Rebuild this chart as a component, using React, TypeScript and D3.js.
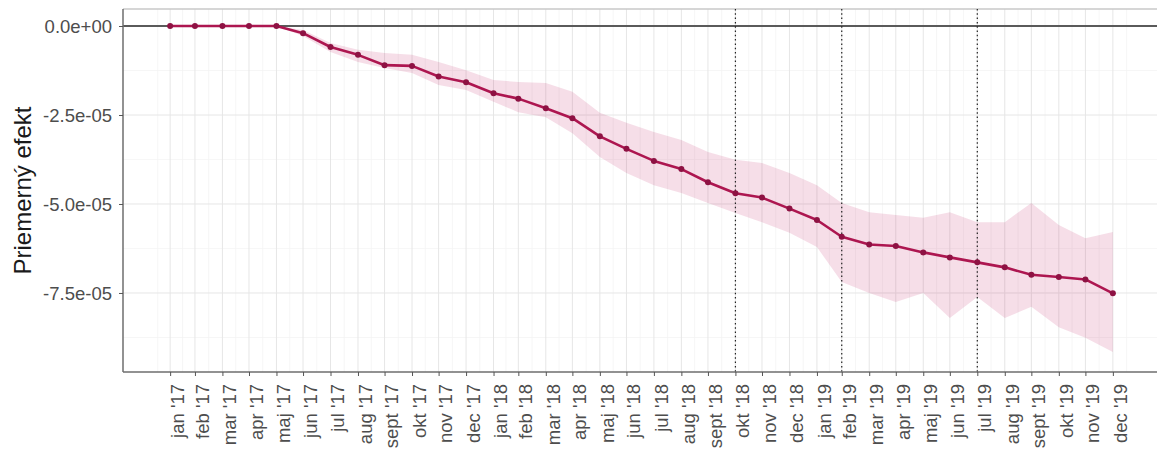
import { useEffect, useRef } from "react";
import * as d3 from "d3";

// month labels, one per observation (end-of-month dates)
const monthLabels = [
  "jan '17", "feb '17", "mar '17", "apr '17", "maj '17", "jun '17",
  "jul '17", "aug '17", "sept '17", "okt '17", "nov '17", "dec '17",
  "jan '18", "feb '18", "mar '18", "apr '18", "maj '18", "jun '18",
  "jul '18", "aug '18", "sept '18", "okt '18", "nov '18", "dec '18",
  "jan '19", "feb '19", "mar '19", "apr '19", "maj '19", "jun '19",
  "jul '19", "aug '19", "sept '19", "okt '19", "nov '19", "dec '19",
];

const monthDates = [
  "2017-01-31", "2017-02-28", "2017-03-31", "2017-04-30", "2017-05-31", "2017-06-30",
  "2017-07-31", "2017-08-31", "2017-09-30", "2017-10-31", "2017-11-30", "2017-12-31",
  "2018-01-31", "2018-02-28", "2018-03-31", "2018-04-30", "2018-05-31", "2018-06-30",
  "2018-07-31", "2018-08-31", "2018-09-30", "2018-10-31", "2018-11-30", "2018-12-31",
  "2019-01-31", "2019-02-28", "2019-03-31", "2019-04-30", "2019-05-31", "2019-06-30",
  "2019-07-31", "2019-08-31", "2019-09-30", "2019-10-31", "2019-11-30", "2019-12-31",
];

// average effect, in units of 1e-5
const meanEffect = [
  0, 0, 0, 0, 0, -0.2, -0.59, -0.81, -1.1, -1.12, -1.42, -1.58,
  -1.89, -2.04, -2.31, -2.59, -3.1, -3.45, -3.79, -4.02, -4.39, -4.7, -4.82, -5.13,
  -5.45, -5.92, -6.14, -6.18, -6.36, -6.5, -6.64, -6.78, -6.99, -7.05, -7.12, -7.51,
];

const upperBand = [
  0, 0, 0, 0, 0, -0.11, -0.48, -0.67, -0.76, -0.81, -1.01, -1.24,
  -1.52, -1.57, -1.6, -1.85, -2.44, -2.72, -2.98, -3.2, -3.54, -3.76, -3.85, -4.13,
  -4.47, -4.97, -5.23, -5.31, -5.39, -5.23, -5.51, -5.51, -4.97, -5.59, -5.96, -5.79,
];

const lowerBand = [
  0, 0, 0, 0, 0, -0.28, -0.73, -1.01, -1.18, -1.32, -1.66, -1.8,
  -2.13, -2.42, -2.56, -3.01, -3.68, -4.13, -4.47, -4.69, -4.97, -5.25, -5.51, -5.81,
  -6.21, -7.19, -7.5, -7.75, -7.5, -8.2, -7.61, -8.2, -7.89, -8.46, -8.76, -9.16,
];

const yTicks = [0, -2.5e-5, -5e-5, -7.5e-5];
const yMinorTicks = [-1.25e-5, -3.75e-5, -6.25e-5, -8.75e-5];
const markerMonths = ["okt '18", "feb '19", "jul '19"];

const fmtSci = (v: number) => {
  if (v === 0) return "0.0e+00";
  const [m, e] = v.toExponential(1).split("e");
  const n = parseInt(e, 10);
  const sign = n < 0 ? "-" : "+";
  return `${m}e${sign}${String(Math.abs(n)).padStart(2, "0")}`;
};

export default function App() {
  const svgRef = useRef<SVGSVGElement | null>(null);

  useEffect(() => {
    const svgEl = svgRef.current;
    if (!svgEl) return;
    const width = 1157;
    const height = 454;
    const panel = { left: 123, top: 9, right: 1160, bottom: 372 };

    const svg = d3.select(svgEl);
    svg.selectAll("*").remove();
    svg.attr("width", width).attr("height", height);

    const parse = d3.timeParse("%Y-%m-%d");
    const points = monthDates.map((d, i) => ({
      date: parse(d) as Date,
      label: monthLabels[i],
      mean: meanEffect[i] * 1e-5,
      hi: upperBand[i] * 1e-5,
      lo: lowerBand[i] * 1e-5,
    }));

    const first = points[0].date;
    const last = points[points.length - 1].date;
    const pad = (last.getTime() - first.getTime()) * 0.05;
    const x = d3
      .scaleTime()
      .domain([new Date(first.getTime() - pad), new Date(last.getTime() + pad)])
      .range([panel.left, panel.right]);
    const y = d3.scaleLinear().domain([-9.72e-5, 0.478e-5]).range([panel.bottom, panel.top]);

    const font = "'Liberation Sans', Arial, sans-serif";

    // grid
    const grid = svg.append("g");
    const minorX: Date[] = [];
    for (let i = 0; i < points.length - 1; i++) {
      minorX.push(new Date((points[i].date.getTime() + points[i + 1].date.getTime()) / 2));
    }
    minorX.push(new Date(first.getTime() - (points[1].date.getTime() - first.getTime()) / 2));
    minorX.push(new Date(last.getTime() + (last.getTime() - points[points.length - 2].date.getTime()) / 2));

    grid.selectAll("line.minx").data(minorX).enter().append("line")
      .attr("x1", (d) => x(d)).attr("x2", (d) => x(d))
      .attr("y1", panel.top).attr("y2", panel.bottom)
      .attr("stroke", "#f2f2f2").attr("stroke-width", 0.7);
    grid.selectAll("line.miny").data(yMinorTicks).enter().append("line")
      .attr("x1", panel.left).attr("x2", panel.right)
      .attr("y1", (d) => y(d)).attr("y2", (d) => y(d))
      .attr("stroke", "#f2f2f2").attr("stroke-width", 0.7);
    grid.selectAll("line.majx").data(points).enter().append("line")
      .attr("x1", (d) => x(d.date)).attr("x2", (d) => x(d.date))
      .attr("y1", panel.top).attr("y2", panel.bottom)
      .attr("stroke", "#e6e6e6").attr("stroke-width", 1);
    grid.selectAll("line.majy").data(yTicks).enter().append("line")
      .attr("x1", panel.left).attr("x2", panel.right)
      .attr("y1", (d) => y(d)).attr("y2", (d) => y(d))
      .attr("stroke", "#e6e6e6").attr("stroke-width", 1);

    // panel border (top)
    svg.append("line")
      .attr("x1", panel.left).attr("x2", panel.right)
      .attr("y1", panel.top).attr("y2", panel.top)
      .attr("stroke", "#c8c8c8").attr("stroke-width", 1.5);

    // ribbon
    const area = d3
      .area<(typeof points)[number]>()
      .x((d) => x(d.date))
      .y0((d) => y(d.lo))
      .y1((d) => y(d.hi));
    svg.append("path")
      .datum(points)
      .attr("fill", "#c2185b")
      .attr("fill-opacity", 0.14)
      .attr("d", area as any);

    // zero line
    svg.append("line")
      .attr("x1", panel.left).attr("x2", panel.right)
      .attr("y1", y(0)).attr("y2", y(0))
      .attr("stroke", "#5a5a5a").attr("stroke-width", 2);

    // dotted markers
    const marks = points.filter((p) => markerMonths.includes(p.label));
    svg.selectAll("line.mark").data(marks).enter().append("line")
      .attr("x1", (d) => x(d.date)).attr("x2", (d) => x(d.date))
      .attr("y1", panel.top).attr("y2", panel.bottom)
      .attr("stroke", "#222").attr("stroke-width", 1.2)
      .attr("stroke-dasharray", "1.5,2.8");

    // mean line + points
    const line = d3
      .line<(typeof points)[number]>()
      .x((d) => x(d.date))
      .y((d) => y(d.mean));
    svg.append("path")
      .datum(points)
      .attr("fill", "none")
      .attr("stroke", "#ad1650")
      .attr("stroke-width", 2.6)
      .attr("stroke-linejoin", "round")
      .attr("d", line as any);
    svg.selectAll("circle.pt").data(points).enter().append("circle")
      .attr("cx", (d) => x(d.date))
      .attr("cy", (d) => y(d.mean))
      .attr("r", 3)
      .attr("fill", "#8e1243");

    // axes
    const xAxis = svg.append("g")
      .attr("transform", `translate(0,${panel.bottom})`)
      .call(
        d3.axisBottom(x)
          .tickValues(points.map((p) => p.date))
          .tickSize(4)
          .tickSizeOuter(0)
          .tickFormat((_, i) => monthLabels[i]) as any
      );
    xAxis.select(".domain").attr("stroke", "#6e6e6e").attr("stroke-width", 1.5)
      .attr("d", `M${panel.left},0H${panel.right}`);
    xAxis.selectAll(".tick line").attr("stroke", "#555").attr("stroke-width", 1);
    xAxis.selectAll(".tick text")
      .attr("transform", "rotate(-90)")
      .attr("text-anchor", "end")
      .attr("x", -12)
      .attr("y", 0)
      .attr("dy", "0.72em")
      .attr("font-size", 18.5)
      .attr("font-family", font)
      .attr("fill", "#4d4d4d");

    const yAxis = svg.append("g")
      .attr("transform", `translate(${panel.left},0)`)
      .call(d3.axisLeft(y).tickValues(yTicks).tickSize(4).tickSizeOuter(0).tickFormat((d) => fmtSci(d as number)));
    yAxis.select(".domain").attr("stroke", "#6e6e6e").attr("stroke-width", 1.5)
      .attr("d", `M0,${panel.top}V${panel.bottom}`);
    yAxis.selectAll(".tick line").attr("stroke", "#555").attr("stroke-width", 1);
    yAxis.selectAll(".tick text")
      .attr("x", -11)
      .attr("dy", "0.36em")
      .attr("font-size", 18.5)
      .attr("font-family", font)
      .attr("fill", "#4d4d4d");

    svg.append("text")
      .attr("transform", `translate(31,${(panel.top + panel.bottom) / 2}) rotate(-90)`)
      .attr("text-anchor", "middle")
      .attr("font-size", 24)
      .attr("font-family", font)
      .attr("fill", "#1a1a1a")
      .text("Priemerný efekt");
  }, []);

  return (
    <div style={{ position: "absolute", left: 0, top: 0, background: "#fff" }}>
      <svg ref={svgRef} style={{ display: "block" }} role="img" aria-label="Priemerný efekt" />
    </div>
  );
}
